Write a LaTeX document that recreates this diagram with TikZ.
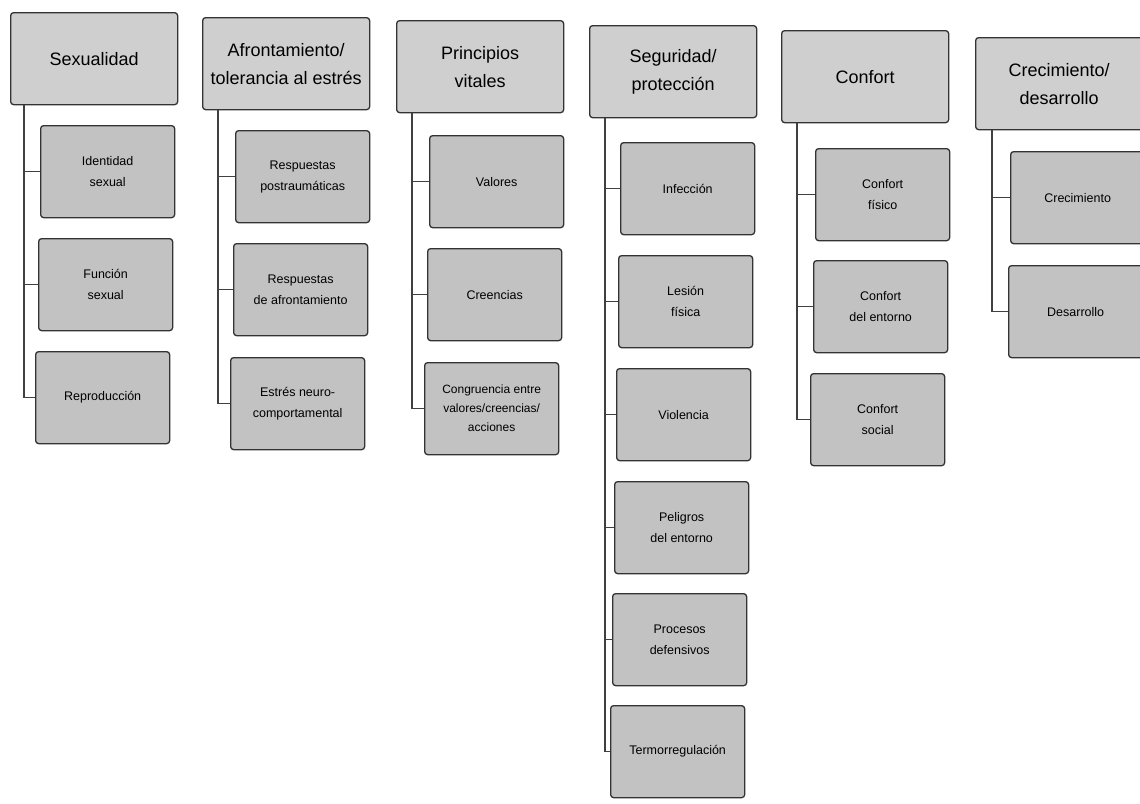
\documentclass[tikz,border=0pt]{standalone}
\usepackage{fontspec}
\setmainfont{Liberation Sans}

\tikzset{
  head/.style={draw=black!80, line width=1.3pt, fill=black!19, rounded corners=3pt,
    minimum width=167pt, minimum height=92pt, inner sep=2pt, align=center,
    anchor=north west, font=\fontsize{18}{28}\selectfont},
  item/.style={head, fill=black!24, minimum width=134pt,
    font=\fontsize{12.5}{21}\selectfont},
  link/.style={draw=black!75, line width=1.2pt}
}

\begin{document}
\begin{tikzpicture}[x=1pt,y=-1pt]
\useasboundingbox[fill=white] (0,0) rectangle (1140,803);

% Sexualidad
\node[head] (sex) at (10,12) {Sexualidad};
\node[item] (sex1) at (40,125) {Identidad\\sexual};
\node[item] (sex2) at (38,238) {Función\\sexual};
\node[item] (sex3) at (35,351) {Reproducción};

% Afrontamiento
\node[head] (afr) at (202,17) {Afrontamiento/\\tolerancia al estrés};
\node[item] (afr1) at (235,130) {Respuestas\\postraumáticas};
\node[item] (afr2) at (233,243) {Respuestas\\de afrontamiento};
\node[item] (afr3) at (230,357) {Estrés neuro-\\comportamental};

% Principios vitales
\node[head] (pri) at (396,20) {Principios\\vitales};
\node[item] (pri1) at (429,135) {Valores};
\node[item] (pri2) at (427,248) {Creencias};
\node[item, font=\fontsize{12}{19}\selectfont] (pri3) at (424,362) {Congruencia entre\\valores/creencias/\\acciones};

% Seguridad
\node[head] (seg) at (589,25) {Seguridad/\\protección};
\node[item] (seg1) at (620,142) {Infección};
\node[item] (seg2) at (618,255) {Lesión\\física};
\node[item] (seg3) at (616,368) {Violencia};
\node[item] (seg4) at (614,481) {Peligros\\del entorno};
\node[item] (seg5) at (612,593) {Procesos\\defensivos};
\node[item] (seg6) at (610,705) {Termorregulación};

% Confort
\node[head] (con) at (781,30) {Confort};
\node[item] (con1) at (815,148) {Confort\\físico};
\node[item] (con2) at (813,260) {Confort\\del entorno};
\node[item] (con3) at (810,373) {Confort\\social};

% Crecimiento
\node[head] (cre) at (975,37) {Crecimiento/\\desarrollo};
\node[item] (cre1) at (1010,151) {Crecimiento};
\node[item] (cre2) at (1008,265) {Desarrollo};

% trunks and branches
\draw[link] ([xshift=14pt]sex.south west) |- (sex1.west);
\draw[link] ([xshift=14pt]sex.south west) |- (sex2.west);
\draw[link] ([xshift=14pt]sex.south west) |- (sex3.west);
\draw[link] ([xshift=16pt]afr.south west) |- (afr1.west);
\draw[link] ([xshift=16pt]afr.south west) |- (afr2.west);
\draw[link] ([xshift=16pt]afr.south west) |- (afr3.west);
\draw[link] ([xshift=16pt]pri.south west) |- (pri1.west);
\draw[link] ([xshift=16pt]pri.south west) |- (pri2.west);
\draw[link] ([xshift=16pt]pri.south west) |- (pri3.west);
\draw[link] ([xshift=16pt]seg.south west) |- (seg1.west);
\draw[link] ([xshift=16pt]seg.south west) |- (seg2.west);
\draw[link] ([xshift=16pt]seg.south west) |- (seg3.west);
\draw[link] ([xshift=16pt]seg.south west) |- (seg4.west);
\draw[link] ([xshift=16pt]seg.south west) |- (seg5.west);
\draw[link] ([xshift=16pt]seg.south west) |- (seg6.west);
\draw[link] ([xshift=16pt]con.south west) |- (con1.west);
\draw[link] ([xshift=16pt]con.south west) |- (con2.west);
\draw[link] ([xshift=16pt]con.south west) |- (con3.west);
\draw[link] ([xshift=17pt]cre.south west) |- (cre1.west);
\draw[link] ([xshift=17pt]cre.south west) |- (cre2.west);
\end{tikzpicture}
\end{document}
